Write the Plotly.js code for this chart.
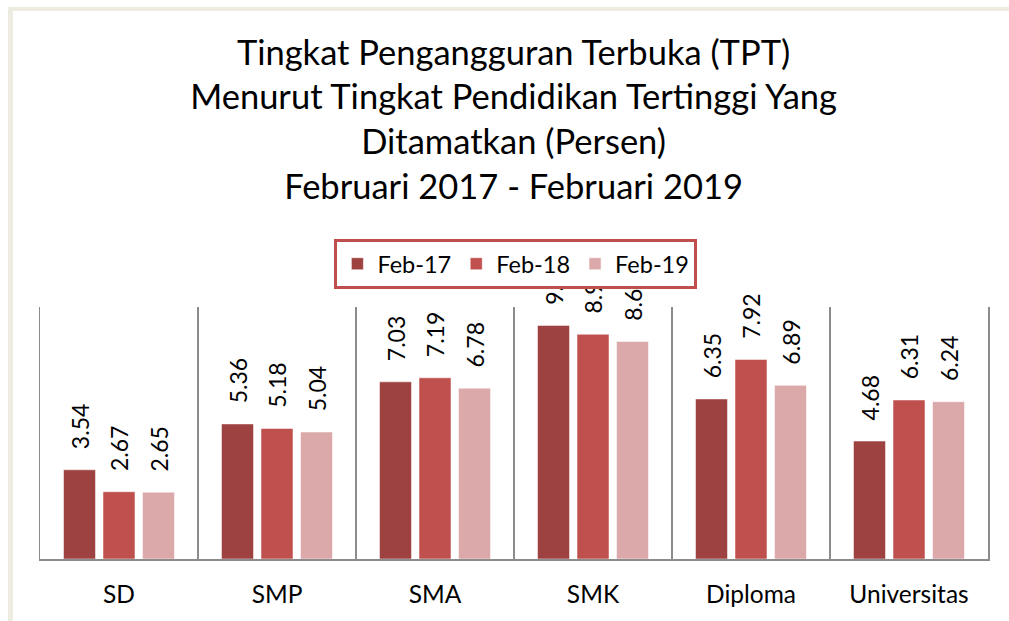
<!DOCTYPE html>
<html>
<head>
<meta charset="utf-8">
<script src="https://cdn.plot.ly/plotly-3.0.1.min.js"></script>
<style>
  html, body { margin: 0; padding: 0; background: #ffffff; }
  #frame { position: absolute; left: 8px; top: 7px; width: 1001px; height: 614px;
           border-left: 5px solid #EEECE1; border-top: 4px solid #EEECE1; box-sizing: border-box; }
  #chart { position: absolute; left: 0; top: 0; width: 1009px; height: 621px; }
</style>
</head>
<body>
<div id="frame"></div>
<div id="chart"></div>
<script>
const categories = ["SD", "SMP", "SMA", "SMK", "Diploma", "Universitas"];
const seriesNames = ["Feb-17", "Feb-18", "Feb-19"];
const feb17 = [3.54, 5.36, 7.03, 9.27, 6.35, 4.68];
const feb18 = [2.67, 5.18, 7.19, 8.92, 7.92, 6.31];
const feb19 = [2.65, 5.04, 6.78, 8.63, 6.89, 6.24];
const colors = ["#9E4141", "#C0504D", "#DBA9A9"];

const FONT = "Lato, 'Open Sans', sans-serif";
const values = [feb17, feb18, feb19];
const traces = values.map((v, i) => ({
  type: "bar",
  name: seriesNames[i],
  x: categories,
  y: v,
  text: v.map(n => n.toFixed(2)),
  texttemplate: "\u00A0\u00A0\u00A0%{text}",
  textposition: "outside",
  textangle: -90,
  constraintext: "none",
  cliponaxis: false,
  textfont: { family: FONT, size: 23, color: "#000000" },
  marker: { color: colors[i], line: { color: "rgba(255,255,255,0.5)", width: 1 } },
  hoverinfo: "x+y+name"
}));

const layout = {
  width: 1009, height: 621,
  paper_bgcolor: "rgba(0,0,0,0)",
  plot_bgcolor: "rgba(0,0,0,0)",
  margin: { l: 40, r: 21, t: 307, b: 62 },
  font: { family: FONT, color: "#000000" },
  title: {
    text: "Tingkat Pengangguran Terbuka (TPT)<br>Menurut Tingkat Pendidikan Tertinggi Yang<br>Ditamatkan (Persen)<br>Februari 2017 - Februari 2019",
    font: { family: FONT, size: 34.5, color: "#000000" },
    x: 0.509, xanchor: "center",
    y: 0.896, yanchor: "top", yref: "container"
  },
  barmode: "group",
  bargap: 0.25,
  bargroupgap: 0.19,
  showlegend: true,
  legend: {
    orientation: "h",
    x: 0.502, xanchor: "center",
    y: 1.27, yanchor: "top",
    bgcolor: "#ffffff",
    bordercolor: "#C0504D",
    borderwidth: 3,
    font: { family: FONT, size: 23.5, color: "#000000" },
    traceorder: "normal"
  },
  xaxis: {
    type: "category",
    tickson: "boundaries",
    showgrid: true,
    gridcolor: "#8C8C8C",
    gridwidth: 1.5,
    ticks: "",
    showline: true,
    linecolor: "#8C8C8C",
    linewidth: 1.5,
    tickfont: { family: FONT, size: 24.5, color: "#000000" },
    ticklabelstandoff: 13,
    fixedrange: true
  },
  yaxis: {
    range: [0, 10],
    showgrid: false,
    zeroline: false,
    showticklabels: false,
    ticks: "",
    showline: true,
    mirror: true,
    linecolor: "#8C8C8C",
    linewidth: 1.5,
    fixedrange: true
  }
};

Plotly.newPlot("chart", traces, layout, { displayModeBar: false, staticPlot: true });
</script>
</body>
</html>
